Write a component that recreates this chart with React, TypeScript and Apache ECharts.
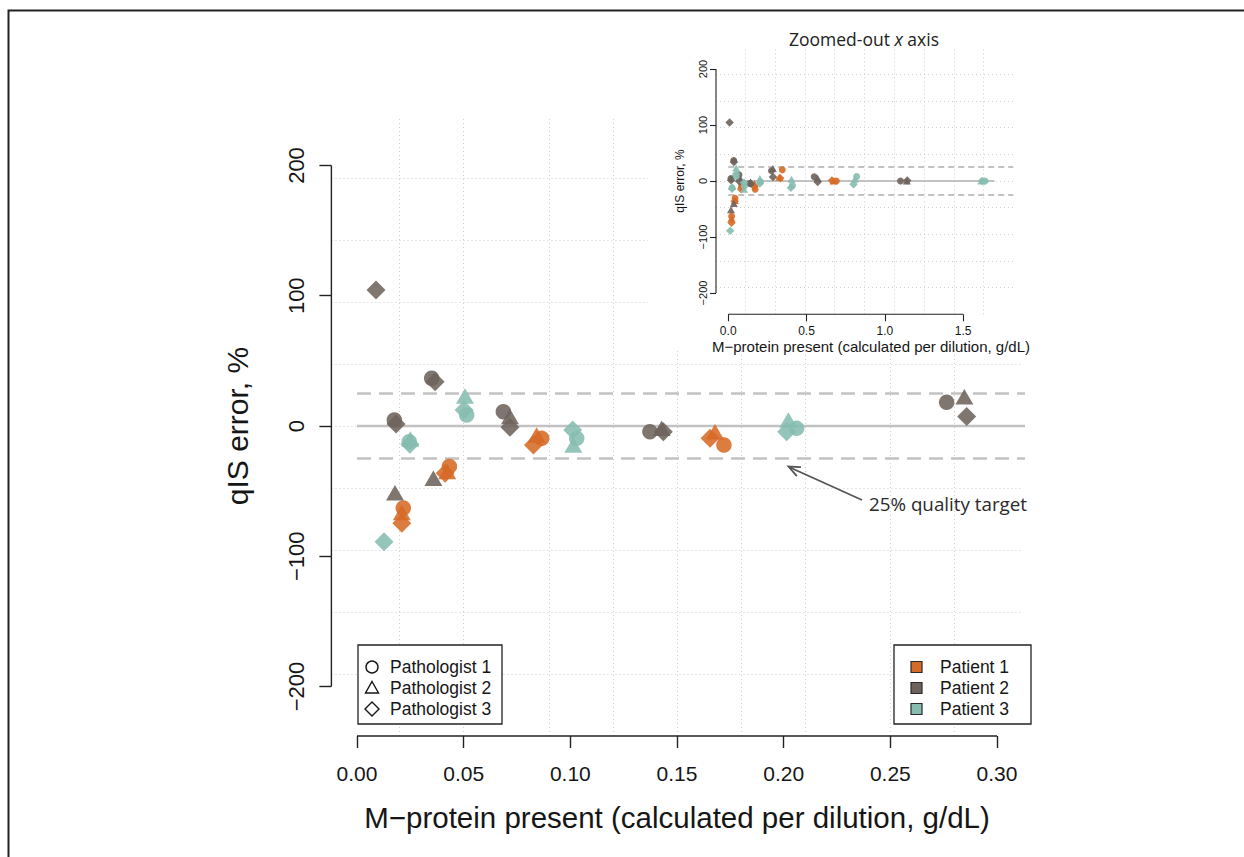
import React, { useEffect, useRef } from "react";
import * as echarts from "echarts";

// ---------- data ----------
const patientNames = ["Patient 1", "Patient 2", "Patient 3"];
const pathologistNames = ["Pathologist 1", "Pathologist 2", "Pathologist 3"];
const patientColors = ["#D66A27", "#6E635C", "#86BDB0"];
const pathologistSymbols = ["circle", "triangle", "diamond"];

// [M-protein present (g/dL), qIS error (%)]
const patient1Pathologist1 = [[0.0217, -63], [0.0433, -31], [0.0866, -9.5], [0.172, -14.6], [0.345, 20], [0.69, 0]];
const patient1Pathologist2 = [[0.021, -66.5], [0.0423, -35], [0.0842, -6.9], [0.1678, -4.4], [0.326, 6.5], [0.672, 0]];
const patient1Pathologist3 = [[0.021, -74.7], [0.0413, -36.3], [0.0827, -14.6], [0.1655, -9.5], [0.332, 5], [0.662, 1]];

const patient2Pathologist1 = [[0.0175, 4.6], [0.035, 36.6], [0.0686, 11], [0.1373, -4.4], [0.2764, 18.2], [0.549, 7.7], [1.1, 0]];
const patient2Pathologist2 = [[0.0178, -51.2], [0.0358, -40.2], [0.0717, 7.2], [0.1428, -1.8], [0.2847, 22.5], [0.571, 5], [1.14, 0]];
const patient2Pathologist3 = [[0.0089, 104.4], [0.0183, 1.5], [0.0366, 34], [0.0717, -1], [0.1436, -4.4], [0.2858, 7.2], [0.571, -2], [1.143, 1]];

const patient3Pathologist1 = [[0.0245, -12], [0.0514, 8.4], [0.103, -9.5], [0.2061, -1.8], [0.41, -8], [0.82, 8], [1.64, 0]];
const patient3Pathologist2 = [[0.025, -10], [0.0506, 23], [0.1014, -14.6], [0.2022, 4.6], [0.404, 3], [0.808, 3], [1.616, 0]];
const patient3Pathologist3 = [[0.0127, -88.8], [0.0248, -14], [0.0502, 12.3], [0.1011, -3.1], [0.2014, -4.4], [0.4, -12], [0.8, -6], [1.62, 0]];

const xTicksMain = [0, 0.05, 0.1, 0.15, 0.2, 0.25, 0.3];
const xTicksInset = [0, 0.5, 1, 1.5];
const yTicks = [-200, -100, 0, 100, 200];
const qualityTarget = 25;

const groups = [
  { patient: 0, path: 0, data: patient1Pathologist1 },
  { patient: 0, path: 1, data: patient1Pathologist2 },
  { patient: 0, path: 2, data: patient1Pathologist3 },
  { patient: 1, path: 0, data: patient2Pathologist1 },
  { patient: 1, path: 1, data: patient2Pathologist2 },
  { patient: 1, path: 2, data: patient2Pathologist3 },
  { patient: 2, path: 0, data: patient3Pathologist1 },
  { patient: 2, path: 1, data: patient3Pathologist2 },
  { patient: 2, path: 2, data: patient3Pathologist3 },
];

// ---------- layout ----------
const MAIN_X = [-0.012, 0.312];
const INSET_X = [-0.078, 1.818];
const Y_RANGE = [-238, 238];

const RFONT = '"Liberation Sans", Arial, Helvetica, sans-serif';
const SFONT = '"Open Sans", "Noto Sans", sans-serif';
const INK = "#161616";

const mainSizes: any[] = [15.5, [18, 15.5], [19, 19]];
const insetSizes: any[] = [7, [8, 7], [8.5, 8.5]];

function gridLines(min: number, max: number, n: number) {
  const out: number[] = [];
  for (let k = 1; k < n; k++) out.push(min + ((max - min) * k) / n);
  return out;
}
const minus = (s: string) => s.replace("-", "\u2212");

function lineSeries(idx: number, data: number[][], style: any, z: number) {
  return {
    type: "line",
    xAxisIndex: idx,
    yAxisIndex: idx,
    data,
    symbol: "none",
    showSymbol: false,
    silent: true,
    clip: false,
    lineStyle: style,
    z,
    animation: false,
  };
}

function gridMarkSeries(idx: number, xr: number[], z: number) {
  return {
    type: "line",
    xAxisIndex: idx,
    yAxisIndex: idx,
    data: [],
    silent: true,
    z,
    markLine: {
      silent: true,
      symbol: "none",
      z,
      animation: false,
      label: { show: false },
      lineStyle: { color: "#cfcfcf", type: [1, 3], width: 1 },
      data: [
        ...gridLines(xr[0], xr[1], 10).map((v) => ({ xAxis: v })),
        ...gridLines(Y_RANGE[0], Y_RANGE[1], 10).map((v) => ({ yAxis: v })),
      ],
    },
  };
}

export default function App() {
  const ref = useRef<HTMLDivElement>(null);

  useEffect(() => {
    if (!ref.current) return;
    const chart = echarts.init(ref.current, undefined, { renderer: "svg" });

    const series: any[] = [];
    series.push(gridMarkSeries(0, MAIN_X, 1));
    const refDash = { color: "#c2c2c2", width: 2.6, type: [14, 8] };
    const refSolid = { color: "#c2c2c2", width: 2.6, type: "solid" };
    series.push(lineSeries(0, [[0, qualityTarget], [0.316, qualityTarget]], refDash, 2));
    series.push(lineSeries(0, [[0, -qualityTarget], [0.316, -qualityTarget]], refDash, 2));
    series.push(lineSeries(0, [[0, 0], [0.316, 0]], refSolid, 2));
    const axisStyle = { color: "#222", width: 1.4, type: "solid" };
    series.push(lineSeries(0, [[xTicksMain[0], Y_RANGE[0]], [xTicksMain[xTicksMain.length - 1], Y_RANGE[0]]], axisStyle, 3));
    series.push(lineSeries(0, [[MAIN_X[0], yTicks[0]], [MAIN_X[0], yTicks[yTicks.length - 1]]], axisStyle, 3));

    groups.forEach((g) => {
      series.push({
        type: "scatter",
        name: patientNames[g.patient] + " / " + pathologistNames[g.path],
        xAxisIndex: 0,
        yAxisIndex: 0,
        data: g.data.filter((d) => d[0] <= MAIN_X[1]),
        symbol: pathologistSymbols[g.path],
        symbolSize: mainSizes[g.path],
        itemStyle: { color: patientColors[g.patient], opacity: 0.88 },
        silent: true,
        z: 4,
      });
    });

    // inset
    series.push(gridMarkSeries(1, INSET_X, 55));
    const inDash = { color: "#c2c2c2", width: 1.8, type: [6, 4] };
    const inSolid = { color: "#c2c2c2", width: 1.8, type: "solid" };
    series.push(lineSeries(1, [[0, qualityTarget], [1.82, qualityTarget]], inDash, 56));
    series.push(lineSeries(1, [[0, -qualityTarget], [1.82, -qualityTarget]], inDash, 56));
    series.push(lineSeries(1, [[0, 0], [1.7, 0]], inSolid, 56));
    const inAxis = { color: "#222", width: 1.1, type: "solid" };
    series.push(lineSeries(1, [[xTicksInset[0], Y_RANGE[0]], [xTicksInset[xTicksInset.length - 1], Y_RANGE[0]]], inAxis, 57));
    series.push(lineSeries(1, [[INSET_X[0], yTicks[0]], [INSET_X[0], yTicks[yTicks.length - 1]]], inAxis, 57));
    groups.forEach((g) => {
      series.push({
        type: "scatter",
        xAxisIndex: 1,
        yAxisIndex: 1,
        data: g.data,
        symbol: pathologistSymbols[g.path],
        symbolSize: insetSizes[g.path],
        itemStyle: { color: patientColors[g.patient], opacity: 0.9 },
        silent: true,
        z: 58,
      });
    });

    const legendFont = "17.5px " + RFONT;
    const rows = [667, 688, 709];
    const graphic: any[] = [
      {
        type: "polyline",
        shape: { points: [[8.5, 857], [8.5, 10.5], [1244, 10.5]] },
        style: { stroke: "#222", lineWidth: 2, fill: "none" },
        z: 100,
      },
      { type: "rect", shape: { x: 648, y: 12, width: 395, height: 337 }, style: { fill: "#ffffff" }, z: 50 },
      // pathologist legend
      { type: "rect", shape: { x: 358, y: 645, width: 144, height: 79 }, style: { fill: "#fff", stroke: "#222", lineWidth: 1.3 }, z: 100 },
      { type: "circle", shape: { cx: 372, cy: rows[0], r: 6 }, style: { fill: "none", stroke: INK, lineWidth: 1.4 }, z: 101 },
      { type: "polygon", shape: { points: [[372, rows[1] - 6.5], [378.5, rows[1] + 5], [365.5, rows[1] + 5]] }, style: { fill: "none", stroke: INK, lineWidth: 1.4 }, z: 101 },
      { type: "polygon", shape: { points: [[372, rows[2] - 7], [379, rows[2]], [372, rows[2] + 7], [365, rows[2]]] }, style: { fill: "none", stroke: INK, lineWidth: 1.4 }, z: 101 },
      ...pathologistNames.map((t, i) => ({
        type: "text",
        style: { text: t, x: 390, y: rows[i], font: legendFont, fill: INK, align: "left", verticalAlign: "middle" },
        z: 101,
      })),
      // patient legend
      { type: "rect", shape: { x: 894, y: 645, width: 137, height: 79 }, style: { fill: "#fff", stroke: "#222", lineWidth: 1.3 }, z: 100 },
      ...patientColors.map((c, i) => ({
        type: "rect",
        shape: { x: 911, y: rows[i] - 5.5, width: 11, height: 11 },
        style: { fill: c, stroke: "#2a2a2a", lineWidth: 1.2 },
        z: 101,
      })),
      ...patientNames.map((t, i) => ({
        type: "text",
        style: { text: t, x: 940, y: rows[i], font: legendFont, fill: INK, align: "left", verticalAlign: "middle" },
        z: 101,
      })),
      // annotation
      { type: "line", shape: { x1: 862, y1: 500, x2: 789, y2: 467 }, style: { stroke: "#555", lineWidth: 1.8 }, z: 100 },
      { type: "polyline", shape: { points: [[801, 467.1], [788.5, 466.6], [796.8, 476.1]] }, style: { stroke: "#555", lineWidth: 1.8, fill: "none" }, z: 100 },
      {
        type: "text",
        style: { text: "25% quality target", x: 869, y: 504, font: "18.8px " + SFONT, fill: "#2a2a2a", align: "left", verticalAlign: "middle" },
        z: 100,
      },
    ];

    const option: any = {
      animation: false,
      backgroundColor: "#ffffff",
      title: {
        text: "Zoomed-out {i|x} axis",
        left: 859,
        top: 25,
        textAlign: "center",
        textStyle: {
          fontFamily: SFONT,
          fontSize: 17.5,
          fontWeight: "normal",
          color: "#222",
          rich: { i: { fontFamily: SFONT, fontSize: 17.5, fontStyle: "italic", color: "#222" } },
        },
        z: 70,
      },
      grid: [
        { left: 331.4, top: 116, width: 691.2, height: 620 },
        { left: 716, top: 47.7, width: 297, height: 266.6 },
      ],
      xAxis: [
        {
          type: "value",
          gridIndex: 0,
          min: MAIN_X[0],
          max: MAIN_X[1],
          axisLine: { show: false, onZero: false },
          splitLine: { show: false },
          axisTick: { show: true, customValues: xTicksMain, length: 12, lineStyle: { color: "#222", width: 1.4 } },
          axisLabel: {
            customValues: xTicksMain,
            formatter: (v: number) => v.toFixed(2),
            fontFamily: RFONT,
            fontSize: 21,
            color: INK,
            margin: 27,
          },
          name: "M\u2212protein present (calculated per dilution, g/dL)",
          nameLocation: "middle",
          nameGap: 66,
          nameTextStyle: { fontFamily: RFONT, fontSize: 29.5, color: INK },
        },
        {
          type: "value",
          gridIndex: 1,
          min: INSET_X[0],
          max: INSET_X[1],
          z: 60,
          axisLine: { show: false, onZero: false },
          splitLine: { show: false },
          axisTick: { show: true, customValues: xTicksInset, length: 7, lineStyle: { color: "#222", width: 1.1 } },
          axisLabel: {
            customValues: xTicksInset,
            formatter: (v: number) => v.toFixed(1),
            fontFamily: RFONT,
            fontSize: 12,
            color: INK,
            margin: 11,
          },
          name: "M\u2212protein present (calculated per dilution, g/dL)",
          nameLocation: "middle",
          nameGap: 25,
          nameTextStyle: { fontFamily: RFONT, fontSize: 15, color: INK, padding: [0, 0, 0, 13] },
        },
      ],
      yAxis: [
        {
          type: "value",
          gridIndex: 0,
          min: Y_RANGE[0],
          max: Y_RANGE[1],
          axisLine: { show: false, onZero: false },
          splitLine: { show: false },
          axisTick: { show: true, customValues: yTicks, length: 12, lineStyle: { color: "#222", width: 1.4 } },
          axisLabel: {
            customValues: yTicks,
            formatter: (v: number) => minus(String(v)),
            rotate: 90,
            fontFamily: RFONT,
            fontSize: 22,
            color: INK,
            margin: 24,
          },
          name: "qIS error, %",
          nameLocation: "middle",
          nameGap: 79,
          nameTextStyle: { fontFamily: RFONT, fontSize: 30, color: INK },
        },
        {
          type: "value",
          gridIndex: 1,
          min: Y_RANGE[0],
          max: Y_RANGE[1],
          z: 60,
          axisLine: { show: false, onZero: false },
          splitLine: { show: false },
          axisTick: { show: true, customValues: yTicks, length: 6, lineStyle: { color: "#222", width: 1.1 } },
          axisLabel: {
            customValues: yTicks,
            formatter: (v: number) => minus(String(v)),
            rotate: 90,
            fontFamily: RFONT,
            fontSize: 11,
            color: INK,
            margin: 8,
          },
          name: "qIS error, %",
          nameLocation: "middle",
          nameGap: 30,
          nameTextStyle: { fontFamily: RFONT, fontSize: 12, color: INK },
        },
      ],
      series,
      graphic,
    };

    chart.setOption(option);
    return () => chart.dispose();
  }, []);

  return (
    <div
      ref={ref}
      style={{ position: "absolute", left: 0, top: 0, width: 1244, height: 857, background: "#fff" }}
    />
  );
}
